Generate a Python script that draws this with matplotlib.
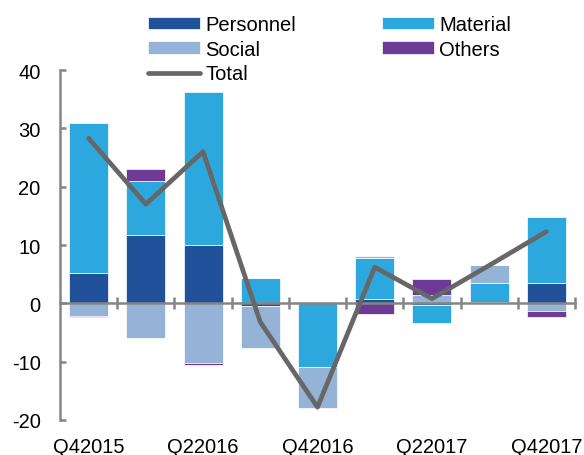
import numpy as np
import matplotlib
matplotlib.use('Agg')
import matplotlib.pyplot as plt

plt.rcParams['font.family'] = ['Liberation Sans', 'DejaVu Sans']
plt.rcParams['axes.unicode_minus'] = False

quarters = ['Q42015', 'Q12016', 'Q22016', 'Q32016', 'Q42016',
            'Q12017', 'Q22017', 'Q32017', 'Q42017']
shown_labels = ['Q42015', '', 'Q22016', '', 'Q42016', '', 'Q22017', '', 'Q42017']

personnel = [5.2, 11.7, 10.0, -0.5, 0.0, 0.7, -0.3, 0.3, 3.5]
material = [25.7, 9.3, 26.3, 4.3, -10.9, 7.0, -3.0, 3.2, 11.3]
social = [-2.1, -6.0, -10.3, -7.1, -7.1, 0.4, 1.5, 3.0, -1.3]
others = [-0.3, 2.1, -0.2, 0.0, 0.3, -1.9, 2.6, 0.0, -1.0]
total = [28.3, 17.0, 26.0, -3.2, -17.8, 6.2, 0.8, 6.5, 12.3]

series = [('Personnel', personnel, '#20519a'),
          ('Material', material, '#2da8df'),
          ('Social', social, '#95b3d7'),
          ('Others', others, '#6d3a96')]

fs = 14.5

fig = plt.figure(figsize=(5.84, 4.56), dpi=100)
ax = fig.add_axes([60 / 584, 35 / 456, 515 / 584, 350 / 456])

x = np.arange(len(quarters))
pos_bottom = np.zeros(len(x))
neg_bottom = np.zeros(len(x))
handles = {}
for name, vals, col in series:
    v = np.array(vals)
    b = np.where(v >= 0, pos_bottom, neg_bottom)
    bars = ax.bar(x, v, bottom=b, width=0.68, color=col,
                  edgecolor='white', linewidth=0.5, zorder=1)
    handles[name] = bars
    pos_bottom += np.where(v >= 0, v, 0)
    neg_bottom += np.where(v < 0, v, 0)

line, = ax.plot(x, total, color='#676767', linewidth=3.4,
                solid_capstyle='round', zorder=4)

ax.set_xlim(-0.5, len(x) - 0.5)
ax.set_ylim(-20, 40)
ax.set_yticks([-20, -10, 0, 10, 20, 30, 40])

axis_col = '#858585'
for s in ['top', 'right']:
    ax.spines[s].set_visible(False)
ax.spines['bottom'].set_position(('data', 0))
for s in ['left', 'bottom']:
    ax.spines[s].set_color(axis_col)
    ax.spines[s].set_linewidth(1.8)
    ax.spines[s].set_zorder(3)

# category boundary ticks on the zero line
ax.set_xticks(np.arange(0.5, len(x), 1.0))
ax.set_xticklabels([])
ax.tick_params(axis='x', direction='inout', length=8.5, width=1.8, color=axis_col)
ax.tick_params(axis='y', direction='in', length=4.3, width=1.8, color=axis_col,
               labelsize=fs, pad=14)

sec = ax.secondary_xaxis('bottom')
sec.set_xticks(x)
sec.set_xticklabels(shown_labels)
sec.tick_params(length=0, labelsize=fs, pad=12)
sec.spines['bottom'].set_visible(False)

leg_handles = [handles['Personnel'], handles['Social'], line,
               handles['Material'], handles['Others']]
leg_labels = ['Personnel', 'Social', 'Total', 'Material', 'Others']
fig.legend(leg_handles, leg_labels, ncol=2, loc='upper left',
           bbox_to_anchor=(148 / 584, 1 - 16 / 456), frameon=False,
           fontsize=fs, handlelength=2.6, handleheight=0.55,
           handletextpad=0.25, columnspacing=4.25, labelspacing=0.28,
           borderpad=0, borderaxespad=0)

fig.savefig('out.png', dpi=100)
